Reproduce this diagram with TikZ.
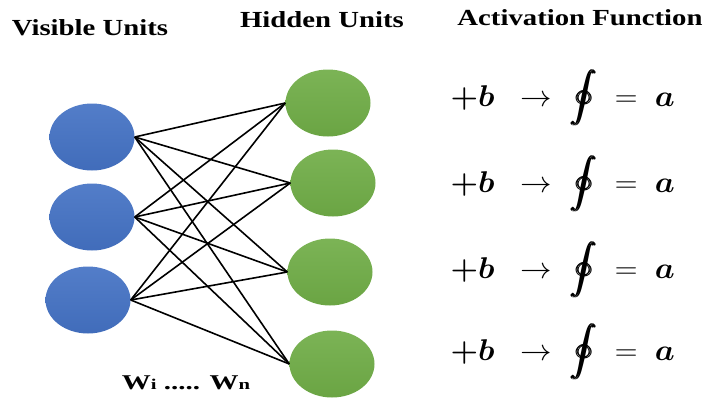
\RequirePackage{fix-cm}
\documentclass[tikz,border=0pt]{standalone}
\usepackage{fontspec}
\usepackage{amsmath,bm}
\setmainfont{Liberation Serif}
\usetikzlibrary{positioning,shapes.geometric}
\definecolor{visblue}{RGB}{68,114,196}
\definecolor{hidgreen}{RGB}{112,173,71}
% one row of the activation column
\newcommand{\actrow}{\scalebox{1.05}[1]{$\bm{+b}\;\;\rightarrow\;\displaystyle\bm{\oint}\;=\;\bm{a}$}}
\newcommand{\headtxt}[1]{\scalebox{1.25}[1]{\bfseries #1}}
\tikzset{
  visible/.style={ellipse,minimum width=85pt,minimum height=67pt,inner sep=0pt,
    top color=visblue!92!white,bottom color=visblue!95!black},
  hidden/.style={ellipse,minimum width=85pt,minimum height=67pt,inner sep=0pt,
    top color=hidgreen!92!white,bottom color=hidgreen!95!black},
  head/.style={font=\fontsize{23}{25}\selectfont},
  act/.style={font=\fontsize{30}{32}\selectfont,anchor=west},
  weight/.style={draw=black,line width=1.6pt}
}
\begin{document}
\begin{tikzpicture}[x=1pt,y=-1pt]
\useasboundingbox (0,0) rectangle (705,399);
% column titles
\node[head] (tv) at (90,28) {\headtxt{Visible Units}};
\node[head] (th) at (322,20) {\headtxt{Hidden Units}};
\node[head] (ta) at (580,18) {\headtxt{Activation Function}};
% units
\node[visible] (v1) at (92,137) {};
\node[visible] (v2) at (92,217) {};
\node[visible] (v3) at (88,300) {};
\node[hidden] (h1) at (328,103) {};
\node[hidden] (h2) at (333,183) {};
\node[hidden] (h3) at (330,272) {};
\node[hidden] (h4) at (332,364) {};
% weights
\foreach \i in {1,2,3}
  \foreach \j in {1,2,3,4}
    \draw[weight] (v\i.east) -- (h\j.west);
\node[font=\fontsize{21}{23}\selectfont\bfseries] (w) at (186,383)
  {\scalebox{1.38}[1]{W{\fontsize{15}{17}\selectfont i} ..... W{\fontsize{15}{17}\selectfont n}}};
% activation rows
\node[act] (a1) at (447,98) {\actrow};
\node[act] (a2) at (447,184) {\actrow};
\node[act] (a3) at (447,270) {\actrow};
\node[act] (a4) at (447,352) {\actrow};
\end{tikzpicture}
\end{document}
